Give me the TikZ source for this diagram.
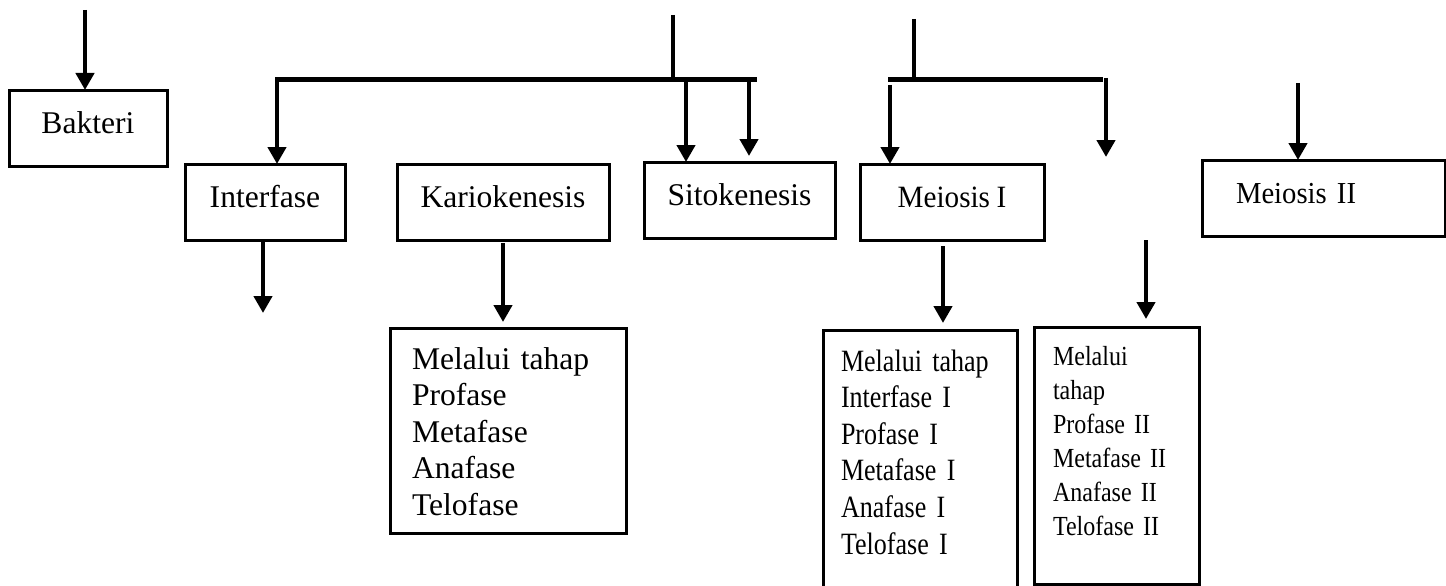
\documentclass[tikz,border=0pt]{standalone}
\usepackage{fontspec}
\setmainfont{Liberation Serif}
\newfontfamily\condA[FakeStretch=0.84,WordSpace=0.8]{Liberation Serif}
\newfontfamily\condB[FakeStretch=0.94,WordSpace=0.9]{Liberation Serif}
\newfontfamily\condC[FakeStretch=0.87,WordSpace=0.8]{Liberation Serif}
\usetikzlibrary{arrows.meta}
\begin{document}
\begin{tikzpicture}[x=1pt,y=-1pt,
  box/.style={draw, line width=3pt, inner sep=0pt, outer sep=0pt, anchor=north west},
  head/.style={box, font=\fontsize{31.6}{36}\selectfont, text height=22pt, text depth=12pt, minimum height=76pt},
  listbox/.style={box, align=left, text height=22pt},
  arr/.style={line width=4.5pt, -{Triangle[width=18pt,length=17pt]}},
  bar/.style={line width=5pt, line cap=rect},
  stem/.style={line width=4.5pt}
]
\useasboundingbox (0,0) rectangle (1446,586);

% heading boxes
\node[head, minimum width=158pt] (bakteri) at (9,90) {Bakteri};
\node[head, minimum width=160pt] (interfase) at (185,164) {Interfase};
\node[head, minimum width=212pt] (kario) at (397,164) {Kariokenesis};
\node[head, minimum width=191pt] (sito) at (644,162) {Sitokenesis};
\node[head, font=\condB\fontsize{31}{36}\selectfont, minimum width=184pt] (meio1) at (860,164) {Meiosis I};
\node[head, font=\condB\fontsize{30.5}{36}\selectfont, align=left, text width=175pt, inner xsep=34pt] (meio2) at (1202,160) {Meiosis II};

% list boxes
\node[listbox, font=\fontsize{31.6}{36.5}\selectfont, text width=192pt, inner xsep=22pt, inner ysep=19pt, text depth=145pt] (karlist) at (390,328)
  {Melalui tahap\\Profase\\Metafase\\Anafase\\Telofase};
\node[listbox, font=\condA\fontsize{31}{36.6}\selectfont, text width=158pt, inner xsep=18pt, inner ysep=19pt, text depth=200pt] (mlist1) at (823,330)
  {Melalui tahap\\Interfase I\\Profase I\\Metafase I\\Anafase I\\Telofase I};
\node[listbox, font=\condC\fontsize{27.6}{34}\selectfont, text width=127pt, inner xsep=19pt, inner ysep=16pt, text depth=203pt] (mlist2) at (1034,327)
  {Melalui\\tahap\\Profase II\\Metafase II\\Anafase II\\Telofase II};

% Bakteri arrow
\coordinate (bt) at (85,10);
\draw[arr] (bt) -- (bt |- bakteri.north);

% mitosis bracket
\coordinate (mt) at (673,15);
\coordinate (mj) at (673,78);
\coordinate (ml) at (277,80);
\coordinate (mr) at (754,80);
\draw[stem] (mt) -- (mj);
\draw[bar] (ml) -- (mr);
\draw[arr] (ml) -- (ml |- interfase.north);
\coordinate (s1) at (686,80);
\coordinate (s2) at (749,80);
\draw[arr] (s1) -- (s1 |- sito.north);
\draw[arr, shorten >=6pt] (s2) -- (s2 |- sito.north);

% interfase down arrow
\coordinate (ie) at (263,313);
\draw[arr] (ie |- interfase.south) -- (ie);

% kariokenesis down arrow
\draw[arr, shorten <=3pt, shorten >=6pt] (kario.south) -- (kario.south |- karlist.north);

% meiosis bracket
\coordinate (nt) at (914,19);
\coordinate (nj) at (914,78);
\coordinate (nl) at (890,80);
\coordinate (nr) at (1100,80);
\draw[stem] (nt) -- (nj);
\draw[bar] (nl) -- (nr);
\coordinate (n1) at (890,85);
\draw[arr] (n1) -- (n1 |- meio1.north);
\coordinate (n2) at (1106,78);
\coordinate (n2e) at (1106,157);
\draw[arr] (n2) -- (n2e);

% meiosis II arrow
\coordinate (p1) at (1298,83);
\draw[arr] (p1) -- (p1 |- meio2.north);

% meiosis I down arrow
\coordinate (q1) at (943,246);
\draw[arr, shorten >=7pt] (q1) -- (q1 |- mlist1.north);

% second down arrow
\coordinate (q2) at (1146,240);
\draw[arr, shorten >=8pt] (q2) -- (q2 |- mlist2.north);
\end{tikzpicture}
\end{document}
